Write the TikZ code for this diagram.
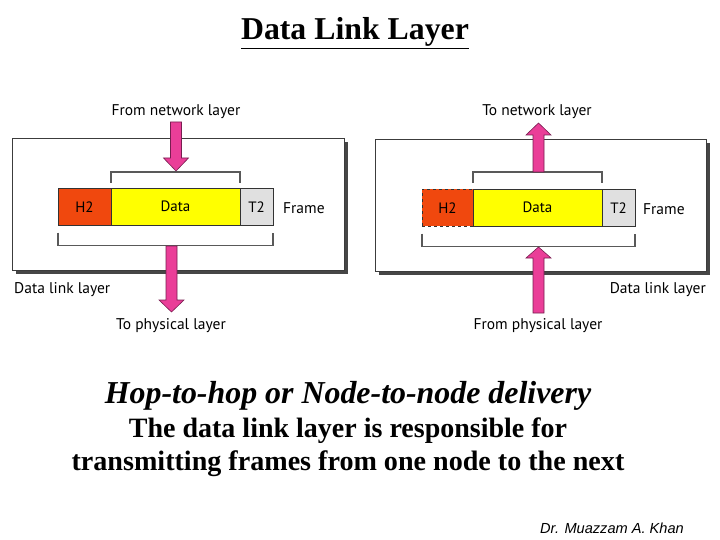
\documentclass[tikz,border=0pt]{standalone}
\usepackage{fontspec}
\setmainfont{Liberation Serif}
\newfontfamily\lblfont{PT Sans}
\newfontfamily\sigfont{Liberation Sans}
\usetikzlibrary{calc}
\definecolor{hcol}{RGB}{240,72,14}
\definecolor{dcol}{RGB}{255,255,0}
\definecolor{tcol}{RGB}{224,224,224}
\definecolor{pinkc}{RGB}{234,62,152}
\definecolor{pinkline}{RGB}{120,30,80}
\definecolor{shadowc}{RGB}{70,70,70}
\definecolor{boxline}{RGB}{60,60,60}
\newcommand\pinkdown[4]{% cx, top, headbase, tip
  \filldraw[arrowshape] (#1-5.5,#2) -- (#1+5.5,#2) -- (#1+5.5,#3) -- (#1+12.5,#3) -- (#1,#4) -- (#1-12.5,#3) -- (#1-5.5,#3) -- cycle;}
\begin{document}
\begin{tikzpicture}[x=1pt,y=-1pt,
  field/.style={draw=black!80, line width=0.9pt, inner sep=0pt, outer sep=0pt, minimum height=37.5, anchor=north west, font=\lblfont\fontsize{15}{16}\selectfont},
  lbl/.style={font=\lblfont\fontsize{15.5}{17}\selectfont, inner sep=0pt},
  bracket/.style={draw=black!65, line width=1.2pt},
  arrowshape/.style={fill=pinkc, draw=pinkline, line width=0.6pt},
  layerbox/.style={draw=boxline, line width=0.8pt, fill=white},
  shadowbox/.style={fill=shadowc}]
\useasboundingbox (0,0) rectangle (720,540);

% title
\node[font=\bfseries\fontsize{31.8}{34}\selectfont, inner sep=0pt] (title) at (355,33) {\underline{Data Link Layer}};

% ---------- left panel ----------
\fill[shadowbox] (16,142) rectangle (348,274);
\draw[layerbox] (12,138) rectangle (344,270);
\node[field, fill=hcol, minimum width=53] (h2L) at (58,188) {H2};
\node[field, fill=dcol, minimum width=129] (dataL) at (111,188) {Data};
\node[field, fill=tcol, minimum width=33] (t2L) at (240,188) {T2};
\node[lbl, anchor=west] (frameL) at (283,208) {Frame};
\draw[bracket] ($(dataL.north west)+(0,-5)$) -- ($(dataL.north west)+(0,-16)$) -- ($(dataL.north east)+(0,-16)$) -- ($(dataL.north east)+(0,-5)$);
\draw[bracket] ($(h2L.south west)+(0,7)$) -- ($(h2L.south west)+(0,20)$) -- ($(t2L.south east)+(0,20)$) -- ($(t2L.south east)+(0,7)$);
\pinkdown{176}{122}{158}{171}
\pinkdown{171.5}{246}{300}{312}
\node[lbl] (fromnet) at (176,111.5) {From network layer};
\node[lbl] (tophys) at (171,325.5) {To physical layer};
\node[lbl, anchor=west] (dllL) at (14,289.5) {Data link layer};

% ---------- right panel ----------
\fill[shadowbox] (379,143) rectangle (710,275);
\draw[layerbox] (375,139) rectangle (706,271);
\node[field, fill=hcol, minimum width=51, dashed] (h2R) at (422,189) {H2};
\node[field, fill=dcol, minimum width=129] (dataR) at (473,189) {Data};
\node[field, fill=tcol, minimum width=33] (t2R) at (602,189) {T2};
\node[lbl, anchor=west] (frameR) at (643,209) {Frame};
\draw[bracket] ($(dataR.north west)+(0,-6)$) -- ($(dataR.north west)+(0,-17)$) -- ($(dataR.north east)+(0,-17)$) -- ($(dataR.north east)+(0,-6)$);
\draw[bracket] ($(h2R.south west)+(0,7)$) -- ($(h2R.south west)+(0,20)$) -- ($(t2R.south east)+(0,20)$) -- ($(t2R.south east)+(0,7)$);
\pinkdown{538.5}{172}{135}{123}
\pinkdown{538.5}{313}{258}{247}
\node[lbl] (tonet) at (537,111.5) {To network layer};
\node[lbl] (fromphys) at (538,325.5) {From physical layer};
\node[lbl, anchor=east] (dllR) at (706,289.5) {Data link layer};

% ---------- text ----------
\node[font=\bfseries\itshape\fontsize{31.9}{34}\selectfont, inner sep=0pt] (hop) at (348,396) {Hop-to-hop or Node-to-node delivery};
\node[font=\bfseries\fontsize{28}{30}\selectfont, inner sep=0pt] (desc1) at (348,431) {The data link layer is responsible for};
\node[font=\bfseries\fontsize{28.1}{30}\selectfont, inner sep=0pt] (desc2) at (348,464) {transmitting frames from one node to the next};
\node[font=\sigfont\itshape\fontsize{14.6}{16}\selectfont, inner sep=0pt, anchor=west] (sig) at (540,528) {Dr. Muazzam A. Khan};
\end{tikzpicture}
\end{document}
